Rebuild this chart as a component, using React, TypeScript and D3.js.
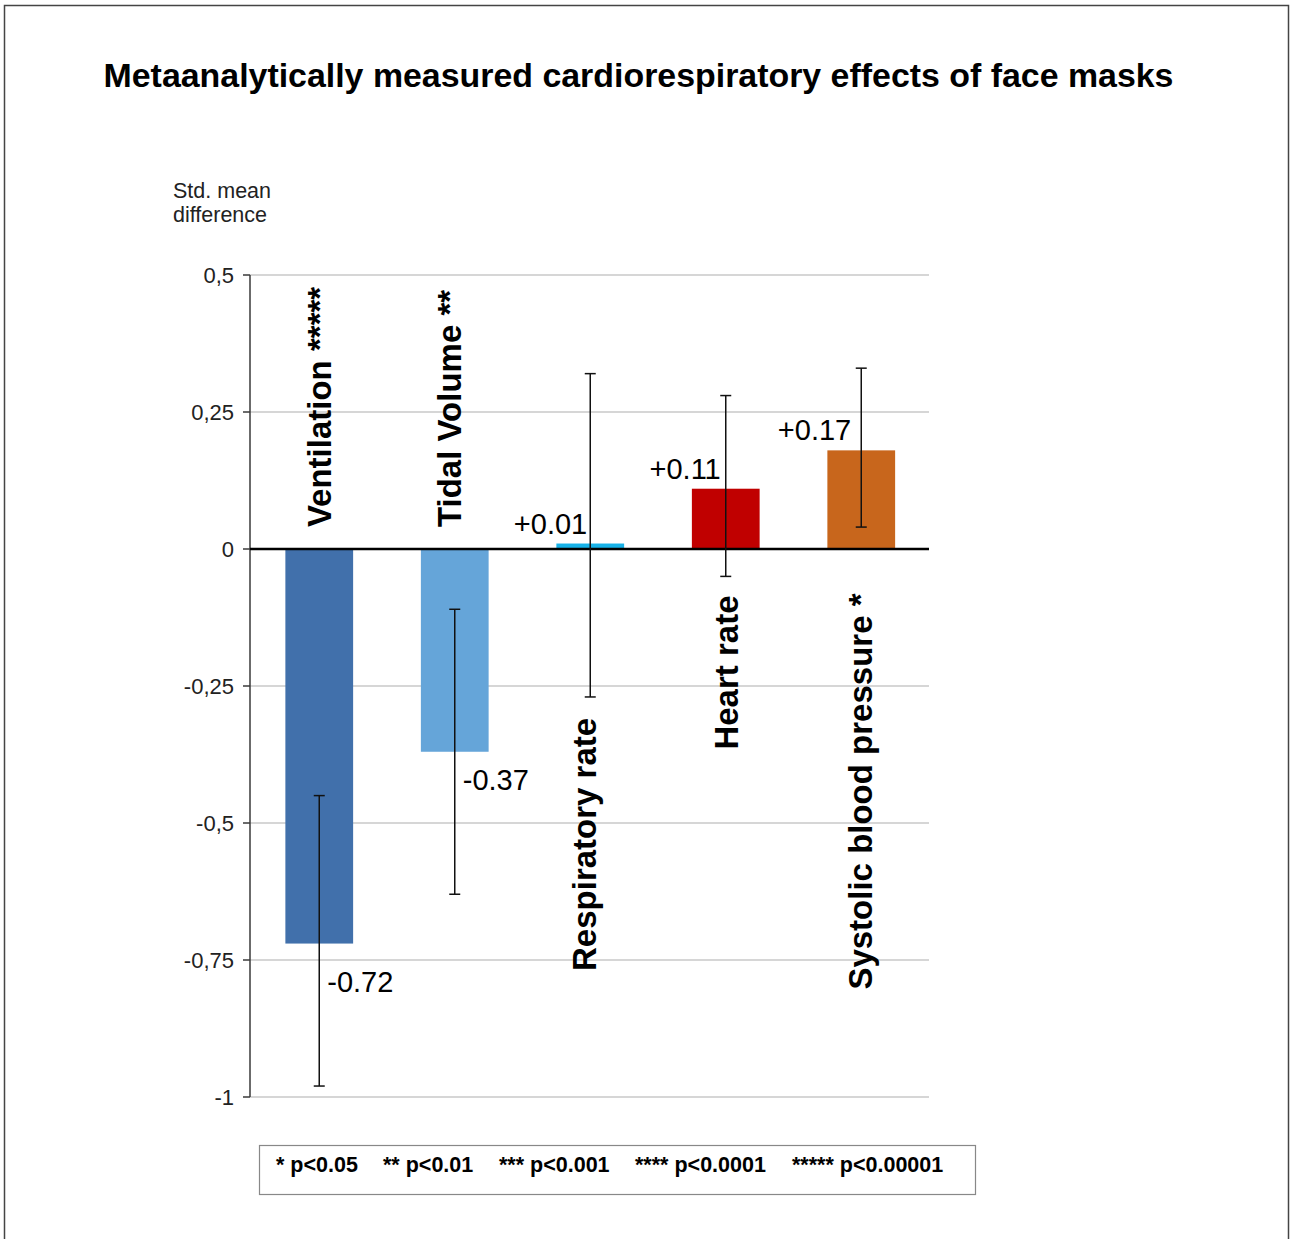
import React from "react";
import * as d3 from "d3";

const categories = ["Ventilation", "Tidal Volume", "Respiratory rate", "Heart rate", "Systolic blood pressure"];
const significance = ["*****", "**", "", "", "*"];
const values = [-0.72, -0.37, 0.01, 0.11, 0.18];
const valueLabels = ["-0.72", "-0.37", "+0.01", "+0.11", "+0.17"];
const ciLow = [-0.98, -0.63, -0.27, -0.05, 0.04];
const ciHigh = [-0.45, -0.11, 0.32, 0.28, 0.33];
const colors = ["#4170ab", "#65a5d9", "#17b2e8", "#c00000", "#c8661c"];
const yTicks = [0.5, 0.25, 0, -0.25, -0.5, -0.75, -1];
const yTickLabels = ["0,5", "0,25", "0", "-0,25", "-0,5", "-0,75", "-1"];
const legendItems = ["* p<0.05", "** p<0.01", "*** p<0.001", "**** p<0.0001", "***** p<0.00001"];

// layout-only constants (not data)
const catLabelStart = [0.04, 0.04, -0.77, -0.366, -0.804];
const catLabelDx = [12, 6, 6, 12, 11];
const negLabelDy = [48, 38];
const posLabelDx = [0, 0, -3, -5, -10];
const legendX = [276, 383, 499, 635, 792];

export default function App() {
  const W = 1290, H = 1239;
  const x0 = 250, x1 = 929;
  const y = d3.scaleLinear().domain([-1, 0.5]).range([1097, 275]);
  const x = d3.scaleBand<string>().domain(categories).range([251.5, 929]).paddingInner(0.5).paddingOuter(0.25);
  const bw = x.bandwidth();
  const font = "'Liberation Sans', Arial, sans-serif";

  return (
    <svg width={W} height={H} style={{ position: "absolute", left: 0, top: 0, background: "#fff" }} fontFamily={font}>
      <rect x={0} y={0} width={W} height={H} fill="#fff" />
      <rect x={4.5} y={5.5} width={1284} height={1260} fill="none" stroke="#444" strokeWidth={1.5} />
      <text x={638.5} y={87} textAnchor="middle" fontSize={33.9} fontWeight="bold" fill="#000">
        Metaanalytically measured cardiorespiratory effects of face masks
      </text>
      <text x={173} y={198} fontSize={21.5} fill="#222">Std. mean</text>
      <text x={173} y={222} fontSize={21.5} fill="#222">difference</text>

      {/* gridlines */}
      {yTicks.filter((t) => t !== 0).map((t) => (
        <line key={"g" + t} x1={x0} x2={x1} y1={y(t)} y2={y(t)} stroke="#c8c8c8" strokeWidth={1.5} />
      ))}
      {/* axis */}
      <line x1={x0} x2={x0} y1={y(0.5)} y2={y(-1)} stroke="#3a3a3a" strokeWidth={1.5} />
      {yTicks.map((t, i) => (
        <g key={"t" + t}>
          <line x1={x0 - 7} x2={x0} y1={y(t)} y2={y(t)} stroke="#3a3a3a" strokeWidth={1.5} />
          <text x={x0 - 16} y={y(t) + 7.5} textAnchor="end" fontSize={22} fill="#222">
            {yTickLabels[i]}
          </text>
        </g>
      ))}

      {/* bars */}
      {categories.map((c, i) => (
        <rect
          key={"b" + c}
          x={x(c)!}
          y={y(Math.max(0, values[i]))}
          width={bw}
          height={Math.abs(y(values[i]) - y(0))}
          fill={colors[i]}
        />
      ))}
      {/* zero line */}
      <line x1={x0} x2={x1} y1={y(0)} y2={y(0)} stroke="#000" strokeWidth={2.5} />

      {/* error bars */}
      {categories.map((c, i) => {
        const cx = x(c)! + bw / 2;
        return (
          <g key={"e" + c} stroke="#111" strokeWidth={1.5}>
            <line x1={cx} x2={cx} y1={y(ciHigh[i])} y2={y(ciLow[i])} />
            <line x1={cx - 5.5} x2={cx + 5.5} y1={y(ciHigh[i])} y2={y(ciHigh[i])} />
            <line x1={cx - 5.5} x2={cx + 5.5} y1={y(ciLow[i])} y2={y(ciLow[i])} />
          </g>
        );
      })}

      {/* value labels */}
      {categories.map((c, i) => {
        const cx = x(c)! + bw / 2;
        const v = values[i];
        if (v < 0) {
          return (
            <text key={"v" + c} x={cx + 8} y={y(v) + negLabelDy[i]} fontSize={29} fill="#000">
              {valueLabels[i]}
            </text>
          );
        }
        return (
          <text key={"v" + c} x={cx + posLabelDx[i]} y={y(v) - 10} textAnchor="end" fontSize={29} fill="#000">
            {valueLabels[i]}
          </text>
        );
      })}

      {/* category labels */}
      {categories.map((c, i) => {
        const cx = x(c)! + bw / 2 + catLabelDx[i];
        const sy = y(catLabelStart[i]);
        return (
          <text
            key={"c" + c}
            transform={`translate(${cx},${sy}) rotate(-90)`}
            fontSize={33}
            fontWeight="bold"
            fill="#000"
          >
            {c + (significance[i] ? " " + significance[i] : "")}
          </text>
        );
      })}

      {/* legend */}
      <rect x={259.5} y={1145.5} width={716} height={49} fill="none" stroke="#888" strokeWidth={1.2} />
      {legendItems.map((l, i) => (
        <text key={"l" + i} x={legendX[i]} y={1172} fontSize={21.5} fontWeight="bold" fill="#000">
          {l}
        </text>
      ))}
    </svg>
  );
}
